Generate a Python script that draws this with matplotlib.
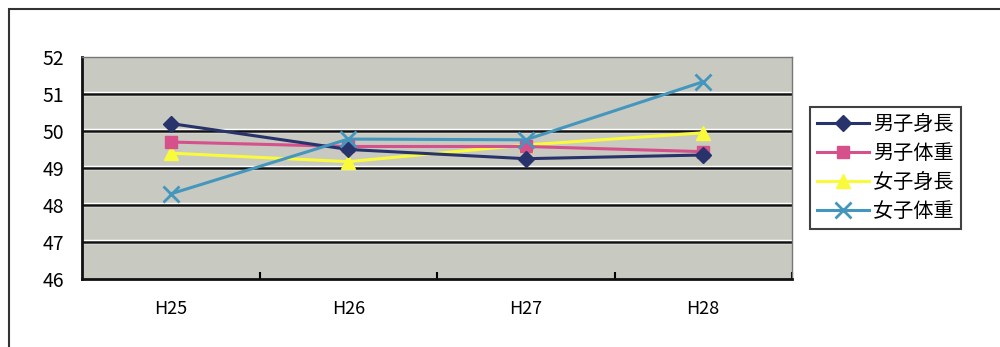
import matplotlib.pyplot as plt
import matplotlib.patches as mpatches

plt.rcParams['font.family'] = ['Noto Sans CJK JP', 'DejaVu Sans']

years = ['H25', 'H26', 'H27', 'H28']
boys_height = [50.2, 49.5, 49.25, 49.35]
boys_weight = [49.7, 49.58, 49.58, 49.44]
girls_height = [49.4, 49.17, 49.62, 49.95]
girls_weight = [48.3, 49.78, 49.76, 51.33]
labels = ['男子身長', '男子体重', '女子身長', '女子体重']

fig = plt.figure(figsize=(10, 3.47), dpi=100)
fig.patches.append(mpatches.Rectangle((0.009, -0.1), 1.1, 1.074, transform=fig.transFigure,
                                      fill=False, edgecolor='#333333', lw=1.5))

ax = fig.add_axes([0.082, 0.196, 0.71, 0.64])
ax.set_facecolor('#c8c9c1')

x = range(len(years))
ax.plot(x, boys_height, color='#27336a', marker='D', ms=8, lw=2.2, label=labels[0], zorder=5)
ax.plot(x, boys_weight, color='#d6508c', marker='s', ms=9, lw=2.2, label=labels[1], zorder=4)
ax.plot(x, girls_height, color='#fafa3c', marker='^', ms=10, lw=2.2, label=labels[2], zorder=3)
ax.plot(x, girls_weight, color='#4596bd', marker='x', ms=11, mew=2, lw=2.2, label=labels[3], zorder=6)

ax.set_xlim(-0.5, 3.5)
ax.set_ylim(46, 52)
ax.set_yticks(range(46, 53))
for v in range(47, 52):
    ax.axhline(v, color='white', lw=3.2, zorder=1)
    ax.axhline(v, color='#111111', lw=1.8, zorder=2)

ax.set_xticks(list(x))
ax.set_xticklabels(years)
ax.set_xticks([0.5, 1.5, 2.5, 3.5], minor=True)
ax.tick_params(axis='x', which='major', length=0, pad=15, labelsize=13)
ax.tick_params(axis='x', which='minor', direction='in', length=5, width=1.5)
ax.tick_params(axis='y', length=0, pad=13, labelsize=14)

for s in ['left', 'bottom']:
    ax.spines[s].set_linewidth(2)
    ax.spines[s].set_color('#111111')
for s in ['top', 'right']:
    ax.spines[s].set_linewidth(1)
    ax.spines[s].set_color('#777777')

leg = fig.legend(loc='upper left', bbox_to_anchor=(0.810, 0.692), fontsize=14.5,
                 frameon=True, fancybox=False, edgecolor='#111111',
                 handlelength=2.6, labelspacing=0.4, borderpad=0.35, handletextpad=0.2,
                 borderaxespad=0)
leg.get_frame().set_linewidth(1.5)

fig.savefig('out.png', dpi=100)
